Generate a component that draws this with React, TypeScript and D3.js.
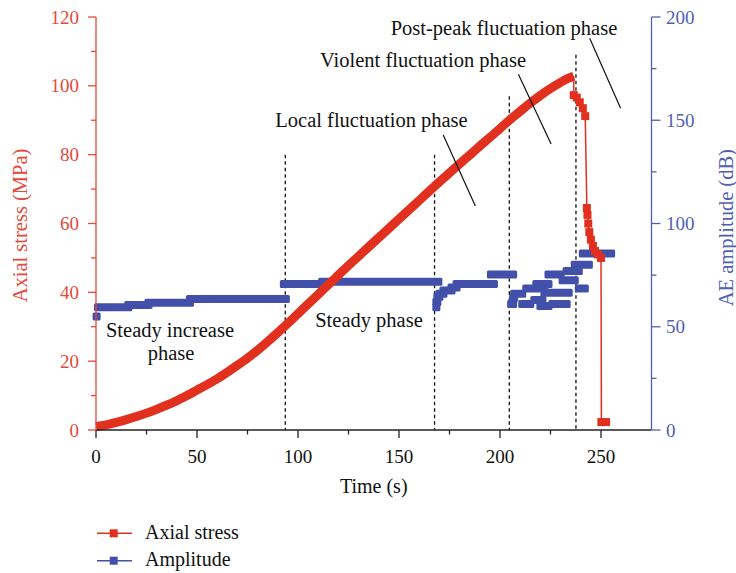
import React from "react";
import * as d3 from "d3";

// ---------- data ----------
const xTicks = [0, 50, 100, 150, 200, 250];
const xMinorTicks = [25, 75, 125, 175, 225];
const leftTicks = [0, 20, 40, 60, 80, 100, 120];
const leftMinorTicks = [10, 30, 50, 70, 90, 110];
const rightTicks = [0, 50, 100, 150, 200];
const rightMinorTicks = [25, 75, 125, 175];

// Axial stress: continuous loading ramp (s, MPa)
const rampTime = [0, 5, 10, 15, 20, 25, 30, 35, 40, 45, 50, 55, 60, 65, 70, 75, 80, 85, 90, 95, 100, 105, 110, 115, 120, 125, 130, 135, 140, 145, 150, 155, 160, 165, 170, 175, 180, 185, 190, 195, 200, 205, 210, 215, 220, 225, 230, 233, 236.5];
const rampStress = [1.0, 1.5, 2.2, 3.0, 3.9, 4.9, 6.0, 7.2, 8.5, 10.0, 11.6, 13.2, 14.9, 16.8, 18.8, 20.9, 23.2, 25.7, 28.3, 31.0, 33.8, 36.6, 39.4, 42.2, 45.0, 47.8, 50.5, 53.2, 55.9, 58.6, 61.3, 64.0, 66.7, 69.4, 72.1, 74.7, 77.3, 79.9, 82.5, 85.0, 87.6, 90.2, 92.6, 95.0, 97.2, 99.2, 101.0, 102.0, 102.8];
// Axial stress: post-peak points
const postTime = [236.5, 238, 239.5, 241, 242.2, 243, 243.3, 243.7, 244.2, 245, 246, 247, 248.5, 250, 250.2, 252.5];
const postStress = [97.3, 96.6, 95.2, 93.5, 91.2, 64.5, 62.5, 60.0, 57.5, 55.3, 53.5, 52.0, 51.0, 50.0, 2.3, 2.3];

// AE amplitude: runs of hits at equal amplitude (start s, end s, dB)
const ampStart = [0.3, 1, 16, 26, 46.5, 93, 112, 168.5, 168.5, 169, 170, 172, 176, 178.5, 195.5, 205.5, 206.5, 207, 211, 213, 217, 218, 220, 222, 224, 226, 231, 233, 237, 239, 241];
const ampEnd = [0.3, 16, 26, 46.5, 94, 112, 169.5, 168.5, 169, 170, 172, 176, 178.5, 197, 206.5, 206.5, 207, 211, 215, 222, 221, 224, 224, 234, 230, 233, 237, 239, 244, 242, 255];
const ampValue = [55, 59.5, 60.5, 61.6, 63.4, 70.7, 71.8, 59.5, 62, 64.5, 66, 67.5, 69, 70.7, 75.3, 61, 64, 66, 61, 68.5, 63, 70.7, 60, 66.5, 75.3, 61, 72.5, 77, 80, 68.5, 85.5];

// phase boundaries (s) and top of each dashed line (MPa)
const phaseTime = [93.7, 167.6, 204.6, 237.6];
const phaseTop = [80, 80, 97, 109];

// ---------- style ----------
const RED = "#e2301f";
const RED_AXIS = "#e5493b";
const BLUE = "#4250a9";
const BLUE_AXIS = "#5260b2";
const FONT = "'Liberation Serif', 'DejaVu Serif', serif";

export default function App() {
  const x = d3.scaleLinear().domain([0, 275]).range([96, 651.5]);
  const yL = d3.scaleLinear().domain([0, 120]).range([430, 17]);
  const yR = d3.scaleLinear().domain([0, 200]).range([430, 17]);

  const ramp = rampTime.map((t, i) => [t, rampStress[i]] as [number, number]);
  const post = postTime.map((t, i) => [t, postStress[i]] as [number, number]);
  const lineL = d3.line<[number, number]>().x((d) => x(d[0])).y((d) => yL(d[1]));
  const rampPath = d3.line<[number, number]>().x((d) => x(d[0])).y((d) => yL(d[1])).curve(d3.curveMonotoneX)(ramp) || "";
  const thinPath = lineL([ramp[ramp.length - 1], ...post]) || "";

  const M = 4; // half marker size

  // annotation leader lines in data coordinates (s, MPa)
  const leaders: [number, number, number, number][] = [
    [171.9, 85.7, 187.8, 65.1],
    [209.1, 103.4, 225.3, 83.1],
    [244.4, 113.8, 259.7, 93.5],
  ];

  return (
    <svg width={736} height={573} style={{ position: "absolute", left: 0, top: 0, background: "#fff" }} fontFamily={FONT}>
      {/* phase dashed lines */}
      {phaseTime.map((t, i) => (
        <line key={"ph" + i} x1={x(t)} x2={x(t)} y1={yL(phaseTop[i])} y2={yL(0)} stroke="#111" strokeWidth={1.3} strokeDasharray="3.5,3" />
      ))}

      {/* amplitude series */}
      {ampStart.map((t, i) => (
        <rect key={"a" + i} x={x(t) - M} y={yR(ampValue[i]) - M} width={x(ampEnd[i]) - x(t) + 2 * M} height={2 * M} rx={1.5} fill={BLUE} />
      ))}

      {/* stress series */}
      <path d={thinPath} fill="none" stroke={RED} strokeWidth={1.5} />
      <path d={rampPath} fill="none" stroke={RED} strokeWidth={9} strokeLinejoin="round" />
      {post.map((d, i) => (
        <rect key={"s" + i} x={x(d[0]) - M} y={yL(d[1]) - M} width={2 * M} height={2 * M} fill={RED} />
      ))}

      {/* x axis */}
      <line x1={x(0)} x2={x(275)} y1={430} y2={430} stroke="#222" strokeWidth={1.3} />
      {xTicks.map((t) => (
        <g key={"xt" + t}>
          <line x1={x(t)} x2={x(t)} y1={430} y2={438} stroke="#222" strokeWidth={1.3} />
          <text x={x(t)} y={463} textAnchor="middle" fontSize={19} fill="#111">{t}</text>
        </g>
      ))}
      {xMinorTicks.map((t) => (
        <line key={"xm" + t} x1={x(t)} x2={x(t)} y1={430} y2={434.5} stroke="#222" strokeWidth={1.3} />
      ))}
      <text x={x(137.5)} y={493} textAnchor="middle" fontSize={20} fill="#111">Time (s)</text>

      {/* left axis */}
      <line x1={96} x2={96} y1={yL(0)} y2={yL(120)} stroke={RED_AXIS} strokeWidth={1.3} />
      {leftTicks.map((v) => (
        <g key={"lt" + v}>
          <line x1={88} x2={96} y1={yL(v)} y2={yL(v)} stroke={RED_AXIS} strokeWidth={1.3} />
          <text x={79} y={yL(v)} dy="0.35em" textAnchor="end" fontSize={19} fill={RED_AXIS}>{v}</text>
        </g>
      ))}
      {leftMinorTicks.map((v) => (
        <line key={"lm" + v} x1={91} x2={96} y1={yL(v)} y2={yL(v)} stroke={RED_AXIS} strokeWidth={1.3} />
      ))}
      <text transform={`translate(27,${yL(60) + 2}) rotate(-90)`} textAnchor="middle" fontSize={20.5} fill={RED_AXIS}>Axial stress (MPa)</text>

      {/* right axis */}
      <line x1={651.5} x2={651.5} y1={yR(0)} y2={yR(200)} stroke={BLUE_AXIS} strokeWidth={1.3} />
      {rightTicks.map((v) => (
        <g key={"rt" + v}>
          <line x1={651.5} x2={660.5} y1={yR(v)} y2={yR(v)} stroke={BLUE_AXIS} strokeWidth={1.3} />
          <text x={666} y={yR(v)} dy="0.35em" textAnchor="start" fontSize={19} fill={BLUE_AXIS}>{v}</text>
        </g>
      ))}
      {rightMinorTicks.map((v) => (
        <line key={"rm" + v} x1={651.5} x2={656.5} y1={yR(v)} y2={yR(v)} stroke={BLUE_AXIS} strokeWidth={1.3} />
      ))}
      <text transform={`translate(733,${yR(98)}) rotate(-90)`} textAnchor="middle" fontSize={20.5} fill={BLUE_AXIS}>AE amplitude (dB)</text>

      {/* annotations */}
      {leaders.map((l, i) => (
        <line key={"ld" + i} x1={x(l[0])} y1={yL(l[1])} x2={x(l[2])} y2={yL(l[3])} stroke="#111" strokeWidth={1.2} />
      ))}
      <g fontSize={20.5} fill="#111" textAnchor="middle">
        <text x={170} y={336.5}>Steady increase</text>
        <text x={171} y={360}>phase</text>
        <text x={369} y={327}>Steady phase</text>
        <text x={371.5} y={127}>Local fluctuation phase</text>
        <text x={423} y={66.5}>Violent fluctuation phase</text>
        <text x={504} y={35}>Post-peak fluctuation phase</text>
      </g>

      {/* legend */}
      <g>
        <line x1={97} x2={132} y1={533.3} y2={533.3} stroke={RED} strokeWidth={1.5} />
        <rect x={109.7} y={529.3} width={8} height={8} fill={RED} />
        <text x={145} y={538.5} fontSize={20} fill="#111">Axial stress</text>
        <line x1={97} x2={132} y1={560.7} y2={560.7} stroke={BLUE} strokeWidth={1.5} />
        <rect x={109.7} y={556.7} width={8} height={8} fill={BLUE} />
        <text x={145} y={566} fontSize={20} fill="#111">Amplitude</text>
      </g>
    </svg>
  );
}
